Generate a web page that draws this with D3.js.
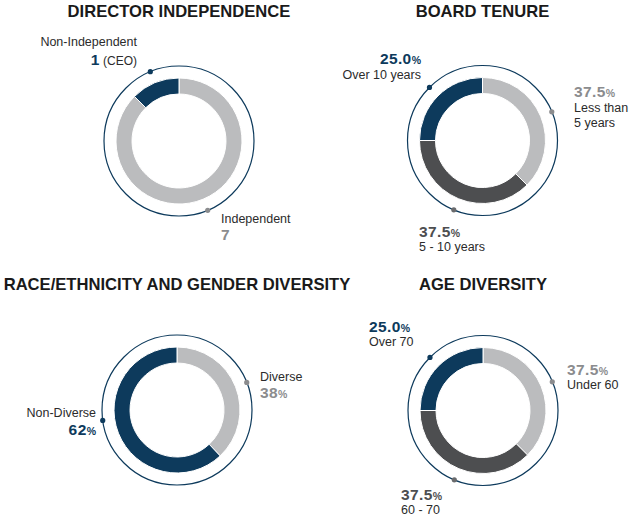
<!DOCTYPE html>
<html>
<head>
<meta charset="utf-8">
<script src="https://cdn.jsdelivr.net/npm/d3@7"></script>
<style>
  body { margin: 0; background: #fff; }
  svg { display: block; font-family: "Liberation Sans", Arial, sans-serif; }
</style>
</head>
<body>
<svg id="chart" width="630" height="516"></svg>
<script>
// data
var independenceLabels = ["Independent", "Non-Independent"];
var independenceValues = [7, 1];
var independenceNotes = ["", "(CEO)"];

var tenureLabels = ["Less than 5 years", "5 - 10 years", "Over 10 years"];
var tenureValues = [37.5, 37.5, 25.0];

var diversityLabels = ["Diverse", "Non-Diverse"];
var diversityValues = [38, 62];

var ageLabels = ["Under 60", "60 - 70", "Over 70"];
var ageValues = [37.5, 37.5, 25.0];

var BLUE = "#0d3a5c", LIGHT = "#bbbcbe", DARK = "#4d4e50";
var valueColor = { light: "#8b8c8e", dark: "#4d4e50", blue: BLUE };
var dotColor = { light: "#8b8c8e", dark: "#6a6b6d", blue: BLUE };
var fillColor = { light: LIGHT, dark: DARK, blue: BLUE };

var charts = [
  {
    title: "DIRECTOR INDEPENDENCE", cx: 179, cy: 141, titleY: 17,
    labels: independenceLabels, values: independenceValues, notes: independenceNotes,
    tones: ["light", "blue"], fmt: d => d3.format("d")(d), unit: "",
    text: [
      { x: 221, anchor: "start", names: [["Independent", 223]], valueY: 240 },
      { x: 137, anchor: "end", names: [["Non-Independent", 46]], valueY: 64.5 }
    ]
  },
  {
    title: "BOARD TENURE", cx: 482.5, cy: 140.5, titleY: 17,
    labels: tenureLabels, values: tenureValues,
    tones: ["light", "dark", "blue"], fmt: d3.format(".1f"), unit: "%",
    text: [
      { x: 574, anchor: "start", names: [["Less than", 112], ["5 years", 126.5]], valueY: 97 },
      { x: 419, anchor: "start", names: [["5 - 10 years", 251]], valueY: 237 },
      { x: 421, anchor: "end", names: [["Over 10 years", 78.5]], valueY: 64 }
    ]
  },
  {
    title: "RACE/ETHNICITY AND GENDER DIVERSITY", cx: 177, cy: 410, titleY: 290,
    labels: diversityLabels, values: diversityValues,
    tones: ["light", "blue"], fmt: d3.format("d"), unit: "%",
    dotAngle: [null, 262],
    text: [
      { x: 260, anchor: "start", names: [["Diverse", 380.5]], valueY: 398 },
      { x: 96, anchor: "end", names: [["Non-Diverse", 416.5]], valueY: 435 }
    ]
  },
  {
    title: "AGE DIVERSITY", cx: 483, cy: 410.5, titleY: 290,
    labels: ageLabels, values: ageValues,
    tones: ["light", "dark", "blue"], fmt: d3.format(".1f"), unit: "%",
    text: [
      { x: 567, anchor: "start", names: [["Under 60", 389]], valueY: 375 },
      { x: 401, anchor: "start", names: [["60 - 70", 514]], valueY: 500 },
      { x: 369, anchor: "start", names: [["Over 70", 345.5]], valueY: 331.5 }
    ]
  }
];

var innerR = 47, outerR = 63, ringR = 75;

var svg = d3.select("#chart");

var pie = d3.pie().sort(null).value(d => d.value);
var arc = d3.arc().innerRadius(innerR).outerRadius(outerR);

charts.forEach(function(c) {
  var rows = c.labels.map((l, i) => ({ label: l, value: c.values[i], tone: c.tones[i], i: i }));

  svg.append("text")
    .attr("x", c.cx)
    .attr("y", c.titleY)
    .attr("text-anchor", "middle")
    .attr("font-size", "16.6px")
    .attr("font-weight", "bold")
    .attr("fill", "#1a1a1a")
    .text(c.title);

  var g = svg.append("g")
    .attr("transform", "translate(" + c.cx + "," + c.cy + ")");

  g.append("circle")
    .attr("r", ringR)
    .attr("fill", "none")
    .attr("stroke", BLUE)
    .attr("stroke-width", 1.2);

  var arcs = pie(rows);

  g.selectAll(".arc")
    .data(arcs)
    .enter()
      .append("path")
      .classed("arc", true)
      .attr("fill", d => fillColor[d.data.tone])
      .attr("stroke", "#fff")
      .attr("stroke-width", 1)
      .attr("d", arc);

  function dotAngle(d) {
    if (c.dotAngle && c.dotAngle[d.data.i] != null) return c.dotAngle[d.data.i] * Math.PI / 180;
    return (d.startAngle + d.endAngle) / 2;
  }

  g.selectAll(".dot")
    .data(arcs)
    .enter()
      .append("circle")
      .classed("dot", true)
      .attr("r", 2.6)
      .attr("fill", d => dotColor[d.data.tone])
      .attr("cx", d => ringR * Math.sin(dotAngle(d)))
      .attr("cy", d => -ringR * Math.cos(dotAngle(d)));

  rows.forEach(function(r) {
    var t = c.text[r.i];
    t.names.forEach(function(n) {
      svg.append("text")
        .attr("x", t.x)
        .attr("y", n[1])
        .attr("text-anchor", t.anchor)
        .attr("font-size", "12.5px")
        .attr("fill", "#2b2b2b")
        .text(n[0]);
    });
    var v = svg.append("text")
      .attr("x", t.x)
      .attr("y", t.valueY)
      .attr("text-anchor", t.anchor);
    v.append("tspan")
      .attr("font-size", "15.5px")
      .attr("font-weight", "bold")
      .attr("letter-spacing", "0.4px")
      .attr("fill", valueColor[r.tone])
      .text(c.fmt(r.value));
    if (c.unit) {
      v.append("tspan")
        .attr("font-size", "10.5px")
        .attr("font-weight", "bold")
        .attr("fill", valueColor[r.tone])
        .text(c.unit);
    }
    if (c.notes && c.notes[r.i]) {
      v.append("tspan")
        .attr("font-size", "12px")
        .attr("fill", "#2b2b2b")
        .text(" " + c.notes[r.i]);
    }
  });
});
</script>
</body>
</html>
